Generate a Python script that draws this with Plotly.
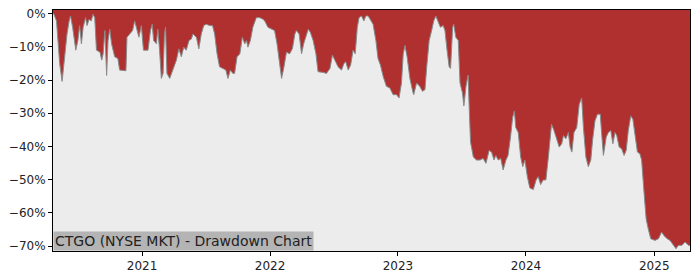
import plotly.graph_objects as go

dates = [
    "2020-04-22", "2020-04-24", "2020-05-02", "2020-05-11", "2020-05-18", "2020-05-25", "2020-06-01",
    "2020-06-07", "2020-06-11", "2020-06-17", "2020-06-26", "2020-07-02", "2020-07-07", "2020-07-12",
    "2020-07-17", "2020-07-24", "2020-07-28", "2020-08-03", "2020-08-09", "2020-08-14", "2020-08-19",
    "2020-08-24", "2020-09-03", "2020-09-08", "2020-09-12", "2020-09-17", "2020-09-22", "2020-09-26",
    "2020-10-01", "2020-10-06", "2020-10-15", "2020-10-24", "2020-10-29", "2020-11-16", "2020-11-19",
    "2020-11-27", "2020-12-05", "2020-12-11", "2020-12-18", "2020-12-23", "2020-12-30",
    "2021-01-05", "2021-01-18", "2021-01-25", "2021-01-30", "2021-02-03", "2021-02-11", "2021-02-15",
    "2021-02-20", "2021-02-25", "2021-03-02", "2021-03-06", "2021-03-09", "2021-03-13", "2021-03-21",
    "2021-03-30", "2021-04-09", "2021-04-16", "2021-04-23", "2021-04-30", "2021-05-07", "2021-05-15",
    "2021-05-22", "2021-05-26", "2021-06-05", "2021-06-12", "2021-06-19", "2021-06-26", "2021-07-03",
    "2021-07-13", "2021-07-21", "2021-07-27", "2021-08-03", "2021-08-10", "2021-08-20", "2021-08-28",
    "2021-09-03", "2021-09-10", "2021-09-17", "2021-09-22", "2021-09-29", "2021-10-07", "2021-10-14",
    "2021-10-21", "2021-10-26", "2021-10-30", "2021-11-06", "2021-11-13", "2021-11-23", "2021-12-03",
    "2021-12-12", "2021-12-17", "2021-12-26",
    "2022-01-05", "2022-01-14", "2022-01-21", "2022-01-29", "2022-02-03", "2022-02-09", "2022-02-17",
    "2022-02-26", "2022-03-06", "2022-03-13", "2022-03-17", "2022-03-25", "2022-04-01", "2022-04-07",
    "2022-04-15", "2022-04-20", "2022-04-26", "2022-05-04", "2022-05-12", "2022-05-18", "2022-06-02",
    "2022-06-11", "2022-06-21", "2022-06-28", "2022-07-05", "2022-07-14", "2022-07-24", "2022-07-31",
    "2022-08-05", "2022-08-12", "2022-08-19", "2022-08-26", "2022-09-01", "2022-09-07", "2022-09-12",
    "2022-09-19", "2022-09-26", "2022-10-01", "2022-10-08", "2022-10-15", "2022-10-22", "2022-10-30",
    "2022-11-05", "2022-11-12", "2022-11-20", "2022-11-29", "2022-12-09", "2022-12-18", "2022-12-28",
    "2023-01-04", "2023-01-11", "2023-01-16", "2023-01-21", "2023-01-27", "2023-02-04", "2023-02-12",
    "2023-02-15", "2023-02-23", "2023-03-04", "2023-03-12", "2023-03-19", "2023-03-24", "2023-03-31",
    "2023-04-07", "2023-04-13", "2023-04-19", "2023-04-26", "2023-05-02", "2023-05-10", "2023-05-15",
    "2023-05-21", "2023-05-27", "2023-05-31", "2023-06-06", "2023-06-09", "2023-06-15", "2023-06-22",
    "2023-06-27", "2023-07-04", "2023-07-08", "2023-07-14", "2023-07-20", "2023-07-23", "2023-07-27",
    "2023-08-04", "2023-08-13", "2023-08-23", "2023-09-01", "2023-09-09", "2023-09-18", "2023-09-25",
    "2023-10-02", "2023-10-07", "2023-10-14", "2023-10-21", "2023-10-28", "2023-11-05", "2023-11-11",
    "2023-11-18", "2023-11-24", "2023-11-29", "2023-12-03", "2023-12-10", "2023-12-17", "2023-12-23",
    "2023-12-29",
    "2024-01-05", "2024-01-12", "2024-01-22", "2024-01-30", "2024-02-05", "2024-02-12", "2024-02-19",
    "2024-02-27", "2024-03-05", "2024-03-14", "2024-03-21", "2024-03-29", "2024-04-05", "2024-04-12",
    "2024-04-17", "2024-04-24", "2024-05-01", "2024-05-06", "2024-05-11", "2024-05-17", "2024-05-25",
    "2024-06-01", "2024-06-08", "2024-06-13", "2024-06-20", "2024-06-27", "2024-07-04", "2024-07-09",
    "2024-07-16", "2024-07-23", "2024-07-31", "2024-08-04", "2024-08-09", "2024-08-17", "2024-08-23",
    "2024-08-30", "2024-09-05", "2024-09-11", "2024-09-16", "2024-09-23", "2024-09-30", "2024-10-07",
    "2024-10-13", "2024-10-19", "2024-10-26", "2024-11-01", "2024-11-07", "2024-11-14", "2024-11-21",
    "2024-11-26", "2024-12-03", "2024-12-09", "2024-12-15", "2024-12-22",
    "2025-01-03", "2025-01-13", "2025-01-22", "2025-01-29", "2025-02-07", "2025-02-15", "2025-02-25",
    "2025-03-04", "2025-03-11", "2025-03-21", "2025-03-30", "2025-04-09", "2025-04-13",
]

drawdown_pct = [
    0.0, 0.0, -2.2, -15.0, -20.4, -13.0, -6.1,
    -2.2, -0.7, -4.1, -11.0, -8.1, -3.6, -9.1,
    -4.1, -1.2, -3.6, -1.7, -2.2, -0.2, -1.2,
    -11.0, -11.6, -14.0, -12.1, -5.1, -18.6, -8.1,
    -4.7, -9.1, -13.0, -13.5, -17.0, -17.2, -7.1,
    -6.1, -5.1, -2.2, -5.1, -7.1, -3.6,
    -11.0, -11.0, -5.1, -3.2, -8.1, -9.1, -4.7,
    -11.0, -19.5, -18.0, -6.1, -4.1, -18.0, -19.5,
    -17.0, -14.0, -10.6, -13.0, -10.1, -11.0, -8.1,
    -7.6, -6.1, -7.1, -10.6, -6.1, -3.6, -3.2,
    -3.6, -3.6, -6.1, -12.1, -16.0, -16.5, -17.0,
    -19.5, -17.0, -18.0, -18.0, -13.0, -12.1, -7.1,
    -9.1, -8.1, -10.1, -8.1, -4.1, -1.2, -1.2,
    -1.7, -2.2, -4.1,
    -4.7, -5.1, -9.1, -16.0, -19.5, -16.5, -11.6,
    -12.1, -10.5, -6.1, -5.1, -6.1, -12.1, -9.1,
    -6.1, -4.7, -5.6, -8.1, -12.1, -17.5, -17.7,
    -18.0, -16.5, -12.5, -14.0, -16.0, -17.0, -15.0,
    -14.5, -17.0, -15.5, -11.0, -12.1, -4.1, -1.2,
    -0.7, -2.2, -0.7, -0.7, -2.2, -3.2, -8.1,
    -13.5, -15.5, -19.0, -21.9, -22.4, -24.4, -24.4,
    -25.4, -20.9, -12.1, -9.6, -13.0, -19.5, -23.4,
    -24.4, -20.9, -21.9, -23.4, -22.9, -16.0, -8.1,
    -5.1, -2.2, -0.7, -2.7, -4.1, -3.6, -5.1,
    -11.0, -16.0, -16.5, -4.1, -3.2, -7.1, -8.1,
    -20.9, -23.9, -27.8, -21.9, -18.5, -27.8, -38.7,
    -43.2, -44.1, -44.1, -43.6, -45.1, -41.2, -41.7,
    -44.1, -42.7, -44.1, -43.6, -47.1, -44.1, -42.7,
    -37.2, -31.3, -29.3, -34.3, -35.8, -43.2, -46.1,
    -44.1,
    -49.1, -52.5, -53.0, -50.1, -49.1, -51.5, -50.1,
    -50.1, -43.2, -33.3, -35.2, -38.2, -40.2, -39.2,
    -36.7, -37.7, -35.8, -40.2, -41.7, -35.8, -34.3,
    -27.3, -25.4, -34.3, -43.2, -46.1, -44.1, -38.2,
    -32.3, -30.3, -30.3, -36.2, -42.7, -37.2, -35.8,
    -35.2, -39.2, -35.8, -36.7, -40.2, -40.7, -42.7,
    -41.2, -35.2, -30.8, -31.8, -37.2, -41.7, -42.2,
    -44.1, -54.0, -61.9, -64.9, -67.8,
    -68.3, -67.8, -65.8, -66.9, -67.8, -68.3, -69.8,
    -70.8, -69.8, -69.8, -68.8, -69.8, -69.8,
]

y_tick_vals = [0, -10, -20, -30, -40, -50, -60, -70]
y_tick_text = ["0%", "−10%", "−20%", "−30%", "−40%", "−50%", "−60%", "−70%"]
x_tick_vals = ["2021-01-01", "2022-01-01", "2023-01-01", "2024-01-01", "2025-01-01"]
x_tick_text = ["2021", "2022", "2023", "2024", "2025"]
title_text = "CTGO (NYSE MKT) - Drawdown Chart"

RED = "#b03030"
GRAY_BG = "#ececec"
FLOOR = -100  # below visible range, used only as fill base

fig = go.Figure()
fig.add_trace(go.Scatter(
    x=dates, y=[FLOOR] * len(dates), mode="lines",
    line=dict(width=0, color=GRAY_BG), hoverinfo="skip", showlegend=False,
))
fig.add_trace(go.Scatter(
    x=dates, y=drawdown_pct, mode="lines", fill="tonexty",
    fillcolor=GRAY_BG, line=dict(color="#8a8a8a", width=1),
    showlegend=False,
))

fig.update_layout(
    width=700, height=280,
    margin=dict(l=53, r=10, t=7, b=28),
    paper_bgcolor="white",
    plot_bgcolor=RED,
    font=dict(family="DejaVu Sans", size=12, color="#222"),
    annotations=[dict(
        text=title_text, xref="paper", yref="paper", x=0, y=0,
        xanchor="left", yanchor="bottom", showarrow=False,
        bgcolor="#b4b4b4", font=dict(family="DejaVu Sans", size=14, color="#222"),
        borderpad=1,
    )],
)
fig.update_xaxes(
    range=["2020-04-22", "2025-04-13"], tickvals=x_tick_vals, ticktext=x_tick_text,
    showgrid=False, zeroline=False, showline=True, linecolor="black", linewidth=1,
    mirror=True, ticks="outside", ticklen=4, tickcolor="black",
)
fig.update_yaxes(
    range=[-71.5, 1.1], tickvals=y_tick_vals, ticktext=y_tick_text,
    showgrid=False, zeroline=False, showline=True, linecolor="black", linewidth=1,
    mirror=True, ticks="outside", ticklen=4, tickcolor="black",
)

fig.write_html("out.html")
